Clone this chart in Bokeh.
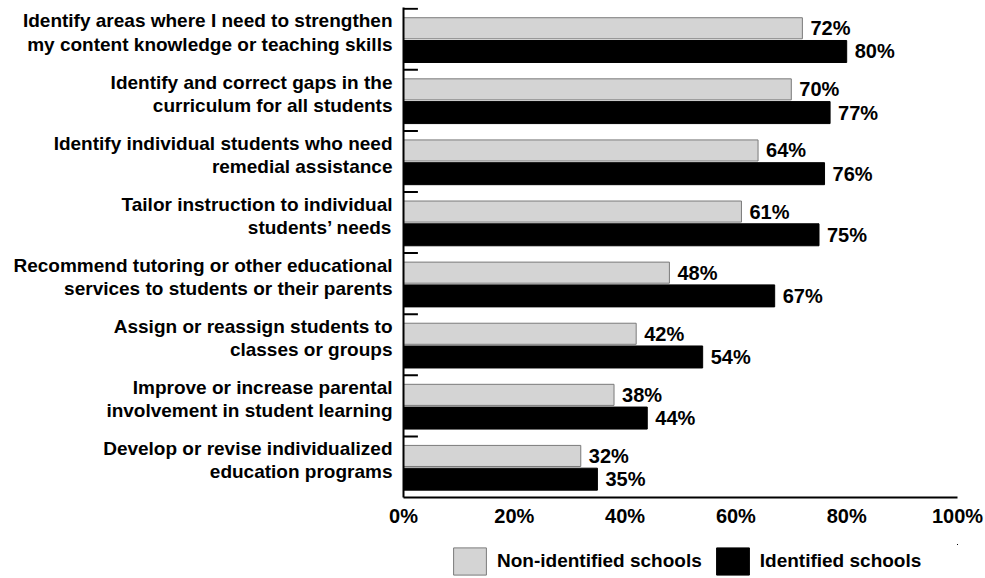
from bokeh.plotting import figure
from bokeh.layouts import column
from bokeh.models import (ColumnDataSource, Range1d, FixedTicker, Legend, LegendItem)
from bokeh.core.properties import value
from bokeh.embed import file_html
from bokeh.resources import INLINE

categories = [
    "Identify areas where I need to strengthen\nmy content knowledge or teaching skills",
    "Identify and correct gaps in the\ncurriculum for all students",
    "Identify individual students who need\nremedial assistance",
    "Tailor instruction to individual\nstudents\u2019 needs",
    "Recommend tutoring or other educational\nservices to students or their parents",
    "Assign or reassign students to\nclasses or groups",
    "Improve or increase parental\ninvolvement in student learning",
    "Develop or revise individualized\neducation programs",
]
non_identified = [72, 70, 64, 61, 48, 42, 38, 32]
identified = [80, 77, 76, 75, 67, 54, 44, 35]
x_ticks = [0, 20, 40, 60, 80, 100]
x_tick_labels = ["0%", "20%", "40%", "60%", "80%", "100%"]
series_names = ["Non-identified schools", "Identified schools"]

FONT = "Liberation Sans"
GRAY_FILL = "#d4d4d4"
GRAY_LINE = "#7a7a7a"
n = len(categories)
idx = list(range(n))

src_non = ColumnDataSource(dict(
    y=[i + 0.32 for i in idx], v=non_identified,
    lab=[f"{v}%" for v in non_identified]))
src_id = ColumnDataSource(dict(
    y=[i + 0.70 for i in idx], v=identified,
    lab=[f"{v}%" for v in identified]))
src_tick = ColumnDataSource(dict(y=idx, x0=[0] * n, x1=[2.6] * n))

p = figure(width=985, height=544, output_backend="svg", toolbar_location=None,
           x_range=Range1d(0, 100), y_range=Range1d(8.0, -0.02))
p.title.visible = False
p.min_border_left = 403
p.min_border_right = 28
p.min_border_top = 7
p.min_border_bottom = 47
p.outline_line_color = None
p.background_fill_color = "white"
p.xgrid.visible = False
p.ygrid.visible = False

p.hbar(y="y", left=0, right="v", height=0.345, source=src_non,
       fill_color=GRAY_FILL, line_color=GRAY_LINE, line_width=1)
p.hbar(y="y", left=0, right="v", height=0.36, source=src_id,
       fill_color="black", line_color="black", line_width=1)

p.segment(x0="x0", x1="x1", y0="y", y1="y", source=src_tick,
          line_color="black", line_width=2)

for s in (src_non, src_id):
    p.text(x="v", y="y", text="lab", source=s, x_offset=8,
           text_baseline="middle", text_align="left",
           text_font=value(FONT), text_font_style="bold",
           text_font_size="20px", text_color="black")

# x axis
xa = p.xaxis[0]
xa.ticker = FixedTicker(ticks=x_ticks)
xa.major_label_overrides = {t: l for t, l in zip(x_ticks, x_tick_labels)}
xa.major_tick_in = 0
xa.major_tick_out = 0
xa.minor_tick_in = 0
xa.minor_tick_out = 0
xa.axis_line_width = 2
xa.axis_line_color = "black"
xa.major_label_standoff = 7
xa.major_label_text_font = FONT
xa.major_label_text_font_style = "bold"
xa.major_label_text_font_size = "20px"
xa.major_label_text_color = "black"

# y axis
ya = p.yaxis[0]
centers = [i + 0.39 for i in idx]
ya.ticker = FixedTicker(ticks=centers)
ya.major_label_overrides = {c: lab for c, lab in zip(centers, categories)}
ya.major_tick_in = 0
ya.major_tick_out = 0
ya.minor_tick_in = 0
ya.minor_tick_out = 0
ya.axis_line_width = 2
ya.axis_line_color = "black"
ya.major_label_standoff = 11
ya.major_label_text_font = FONT
ya.major_label_text_font_style = "bold"
ya.major_label_text_font_size = "19px"
ya.major_label_text_color = "black"
ya.major_label_text_line_height = 1.1

# legend strip below the chart (its bars lie outside its visible ranges)
pl = figure(width=985, height=34, output_backend="svg", toolbar_location=None,
            x_range=Range1d(-300, -200), y_range=Range1d(-300, -200),
            x_axis_location=None, y_axis_location=None)
pl.title.visible = False
pl.min_border_left = 0
pl.min_border_right = 0
pl.min_border_top = 0
pl.min_border_bottom = 0
pl.outline_line_color = None
pl.xgrid.visible = False
pl.ygrid.visible = False
l_non = pl.hbar(y="y", left=0, right="v", height=0.3, source=src_non,
                fill_color=GRAY_FILL, line_color=GRAY_LINE, line_width=1)
l_id = pl.hbar(y="y", left=0, right="v", height=0.3, source=src_id,
               fill_color="black", line_color="black", line_width=1)
legend = Legend(items=[LegendItem(label=series_names[0], renderers=[l_non]),
                       LegendItem(label=series_names[1], renderers=[l_id])],
                location=(46, 0), orientation="horizontal",
                glyph_width=41, glyph_height=34, label_standoff=7,
                padding=0, margin=0, spacing=10,
                background_fill_alpha=0, border_line_alpha=0,
                label_text_font=FONT, label_text_font_style="bold",
                label_text_font_size="19px", label_text_color="black")
pl.add_layout(legend, "center")

open("out.html", "w").write(file_html(column(p, pl), INLINE))
